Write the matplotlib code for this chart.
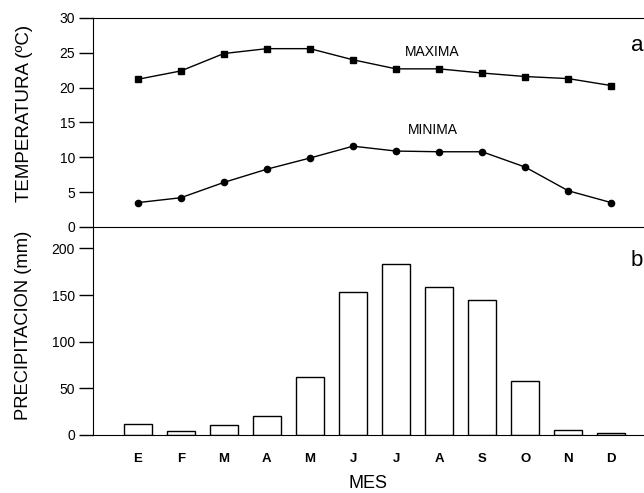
import matplotlib
matplotlib.use("Agg")
import matplotlib.pyplot as plt
import numpy as np

plt.rcParams['font.family'] = ['Liberation Sans', 'DejaVu Sans']

months = ["E", "F", "M", "A", "M", "J", "J", "A", "S", "O", "N", "D"]
t_max = [21.2, 22.4, 24.9, 25.6, 25.6, 24.0, 22.7, 22.7, 22.1, 21.6, 21.3, 20.3]
t_min = [3.5, 4.2, 6.4, 8.3, 9.9, 11.6, 10.9, 10.8, 10.8, 8.6, 5.2, 3.5]
precip = [11.5, 4.5, 10.5, 20.5, 62, 153, 183, 159, 145, 58, 5.5, 2.5]

x = np.arange(len(months))

fig = plt.figure(figsize=(6.44, 4.93), dpi=100)
left = 93 / 644
ax1 = fig.add_axes([left, 1 - 227 / 493, 1.0 - left, (227 - 18) / 493])
ax2 = fig.add_axes([left, 1 - 435 / 493, 1.0 - left, (435 - 227) / 493])
ax2.patch.set_visible(False)
ax1.set_zorder(2)
ax1.patch.set_visible(False)

xlim = (-1.04, 11.76)

ax1.plot(x, t_max, color='black', lw=1.0, marker='s', ms=4.5)
ax1.plot(x, t_min, color='black', lw=1.0, marker='o', ms=4.5)
ax1.set_xlim(*xlim)
ax1.set_ylim(0, 30)
ax1.set_yticks([0, 5, 10, 15, 20, 25, 30])
ax1.set_xticks([])
ax1.spines['right'].set_visible(False)
ax1.tick_params(axis='y', direction='out', length=10, width=1, labelsize=10, pad=3)
ax1.set_ylabel("TEMPERATURA (ºC)", fontsize=13.5, va='center')
ax1.yaxis.set_label_coords(-0.125, 0.545)
ax1.text(6.85, 25.1, "MAXIMA", fontsize=10, ha='center', va='center')
ax1.text(6.85, 13.9, "MINIMA", fontsize=10, ha='center', va='center')
ax1.text(11.45, 26.0, "a", fontsize=16, ha='left', va='center')

ax2.bar(x, precip, width=0.65, facecolor='white', edgecolor='black', lw=1.0)
ax2.set_xlim(*xlim)
ax2.set_ylim(0, 223)
ax2.set_yticks([0, 50, 100, 150, 200])
ax2.set_xticks(x)
ax2.set_xticklabels(months, fontsize=9.5, fontweight='bold')
ax2.tick_params(axis='x', length=0, pad=13)
ax2.spines['right'].set_visible(False)
ax2.spines['top'].set_visible(False)
ax2.tick_params(axis='y', direction='out', length=10, width=1, labelsize=10, pad=3)
ax2.set_ylabel("PRECIPITACION (mm)", fontsize=13.2, va='center')
ax2.yaxis.set_label_coords(-0.127, 0.529)
ax2.set_xlabel("MES", fontsize=13, labelpad=7)
ax2.text(11.45, 187, "b", fontsize=16, ha='left', va='center')

fig.savefig("out.png", dpi=100)
